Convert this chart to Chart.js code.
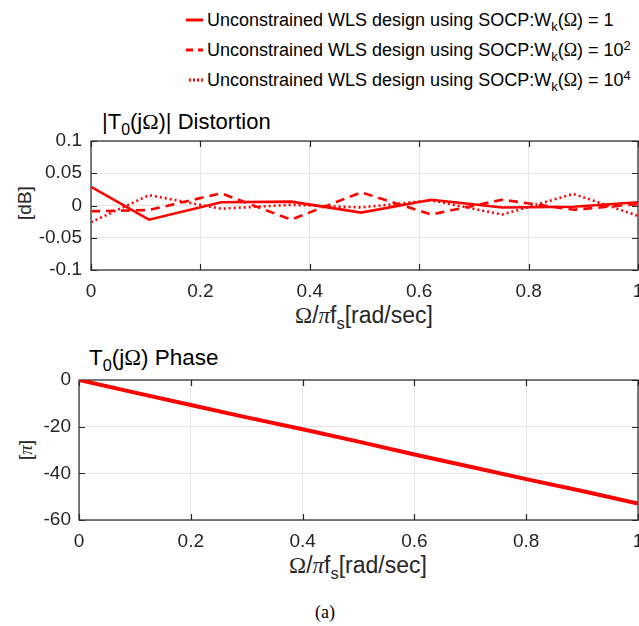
<!DOCTYPE html>
<html><head><meta charset="utf-8">
<script src="https://cdn.jsdelivr.net/npm/chart.js@4"></script>
<style>
body{margin:0;background:#fff;}
#wrap{position:relative;width:639px;height:626px;overflow:hidden;font-family:"Liberation Sans",Arial,sans-serif;color:#000;background:#fff;}
canvas{position:absolute;left:0;}
.t{position:absolute;white-space:nowrap;line-height:1;}
.sym{font-family:"Liberation Serif","Times New Roman",serif;}
.sub{font-size:72%;position:relative;top:0.35em;}
.sup{font-size:72%;position:relative;top:-0.45em;}
.rot{transform:translate(-50%,-50%) rotate(-90deg);}
.leg{font-size:18px;}
</style></head>
<body>
<div id="wrap">
  <svg class="t" style="left:0;top:0" width="639" height="100">
    <line x1="186" y1="20" x2="203" y2="20" stroke="#ff0000" stroke-width="3"/>
    <line x1="186" y1="50" x2="203" y2="50" stroke="#ff0000" stroke-width="3" stroke-dasharray="7,5"/>
    <line x1="189" y1="80" x2="203" y2="80" stroke="#ff0000" stroke-width="3" stroke-dasharray="2,2"/>
  </svg>
  <div class="t leg" style="left:207px;top:11px">Unconstrained WLS design using SOCP:W<span class="sub">k</span>(<span class="sym">Ω</span>) = 1</div>
  <div class="t leg" style="left:207px;top:41px">Unconstrained WLS design using SOCP:W<span class="sub">k</span>(<span class="sym">Ω</span>) = 10<span class="sup">2</span></div>
  <div class="t leg" style="left:207px;top:71px">Unconstrained WLS design using SOCP:W<span class="sub">k</span>(<span class="sym">Ω</span>) = 10<span class="sup">4</span></div>

  <div class="t" style="left:102px;top:111px;font-size:22px;color:#000">|T<span class="sub">0</span>(j<span class="sym">Ω</span>)| Distortion</div>
  <div class="t" style="left:89px;top:347px;font-size:22.5px;color:#000">T<span class="sub">0</span>(j<span class="sym">Ω</span>) Phase</div>

  <div class="t" style="left:364px;top:304px;font-size:23px;color:#262626;transform:translateX(-50%)"><span class="sym">Ω</span>/<span class="sym" style="font-style:italic">π</span>f<span class="sub">s</span>[rad/sec]</div>
  <div class="t" style="left:358px;top:554px;font-size:23px;color:#262626;transform:translateX(-50%)"><span class="sym">Ω</span>/<span class="sym" style="font-style:italic">π</span>f<span class="sub">s</span>[rad/sec]</div>

  <div class="t rot" style="left:24px;top:203px;font-size:19px;color:#262626">[dB]</div>
  <div class="t rot" style="left:25px;top:450px;font-size:19px;color:#262626">[<span class="sym" style="font-style:italic">π</span>]</div>

  <div class="t sym" style="left:325px;top:603px;font-size:18px;transform:translateX(-50%)">(a)</div>

  <canvas id="c1" width="639" height="220" style="top:100px"></canvas>
  <canvas id="c2" width="639" height="230" style="top:340px"></canvas>
</div>
<script>
// ---- data ----
const freq = [0, 0.106, 0.238, 0.366, 0.494, 0.622, 0.752, 0.882, 1];
const distW1 = [0.029, -0.022, 0.005, 0.006, -0.011, 0.009, -0.003, -0.002, 0.005];
const distW2 = [-0.009, -0.007, 0.019, -0.022, 0.0205, -0.014, 0.009, -0.0065, 0.002];
const distW4 = [-0.026, 0.016, -0.005, 0.001, -0.003, 0.008, -0.014, 0.018, -0.016];
const phaseFreq = [0, 0.1, 0.2, 0.3, 0.4, 0.5, 0.6, 0.7, 0.8, 0.9, 1];
const phase = [0, -5.4, -10.7, -16.0, -21.1, -26.4, -31.9, -37.2, -42.5, -47.6, -53.0];
const xTickLabels = ['0', '0.2', '0.4', '0.6', '0.8', '1'];
const distTickLabels = ['-0.1', '-0.05', '0', '0.05', '0.1'];
const phaseTickLabels = ['-60', '-40', '-20', '0'];
const seriesNames = ['W_k=1', 'W_k=10^2', 'W_k=10^4'];

const AXC = '#262626';
const boxPlugin = {
  id: 'box',
  beforeDatasetsDraw(chart) {
    const {ctx, chartArea: a, scales: {x, y}} = chart;
    ctx.save();
    ctx.strokeStyle = AXC; ctx.lineWidth = 1.2;
    ctx.strokeRect(a.left, a.top, a.right - a.left, a.bottom - a.top);
    ctx.beginPath();
    x.ticks.forEach(t => {
      const p = Math.round(x.getPixelForValue(t.value)) + 0.5;
      ctx.moveTo(p, a.bottom); ctx.lineTo(p, a.bottom - 6);
      ctx.moveTo(p, a.top); ctx.lineTo(p, a.top + 6);
    });
    y.ticks.forEach(t => {
      const p = Math.round(y.getPixelForValue(t.value)) + 0.5;
      ctx.moveTo(a.left, p); ctx.lineTo(a.left + 6, p);
      ctx.moveTo(a.right, p); ctx.lineTo(a.right - 6, p);
    });
    ctx.stroke();
    ctx.restore();
  }
};

function xy(xs, ys) { return xs.map((v, i) => ({x: v, y: ys[i]})); }
const tickFont = {family: '"Liberation Sans", Arial, sans-serif', size: 19};

function makeChart(id, datasets, yMin, yMax, yStep, yLabels, yWidth, padTop, yPad) {
  return new Chart(document.getElementById(id), {
    type: 'line',
    data: {datasets},
    options: {
      responsive: false, animation: false,
      layout: {padding: {top: padTop, right: 1, left: 0, bottom: 0}, autoPadding: false},
      plugins: {legend: {display: false}, tooltip: {enabled: false}},
      elements: {point: {radius: 0}, line: {tension: 0}},
      scales: {
        x: {
          type: 'linear', min: 0, max: 1,
          ticks: {stepSize: 0.2, color: AXC, font: tickFont, padding: 10, maxRotation: 0,
                  callback: (v, i) => xTickLabels[i]},
          grid: {color: '#e6e6e6', drawTicks: false},
          border: {display: false},
          afterFit: s => { s.height = 50; s.paddingLeft = 0; s.paddingRight = 0; }
        },
        y: {
          min: yMin, max: yMax,
          ticks: {stepSize: yStep, color: AXC, font: tickFont, padding: yPad,
                  callback: (v, i) => yLabels[i]},
          grid: {color: '#e6e6e6', drawTicks: false},
          border: {display: false},
          afterFit: s => { s.width = yWidth; s.paddingTop = 0; s.paddingBottom = 0; }
        }
      }
    },
    plugins: [boxPlugin]
  });
}

makeChart('c1', [
  {label: seriesNames[0], data: xy(freq, distW1), borderColor: '#ff0000', borderWidth: 2.6},
  {label: seriesNames[1], data: xy(freq, distW2), borderColor: '#ff0000', borderWidth: 2.6, borderDash: [9, 6]},
  {label: seriesNames[2], data: xy(freq, distW4), borderColor: '#ff0000', borderWidth: 2.6, borderDash: [2, 3]}
], -0.1, 0.1, 0.05, distTickLabels, 91, 41, 9);

makeChart('c2', [
  {label: 'Phase', data: xy(phaseFreq, phase), borderColor: '#ff0000', borderWidth: 4}
], -60, 0, 20, phaseTickLabels, 79, 40, 8);
</script>
</body></html>
